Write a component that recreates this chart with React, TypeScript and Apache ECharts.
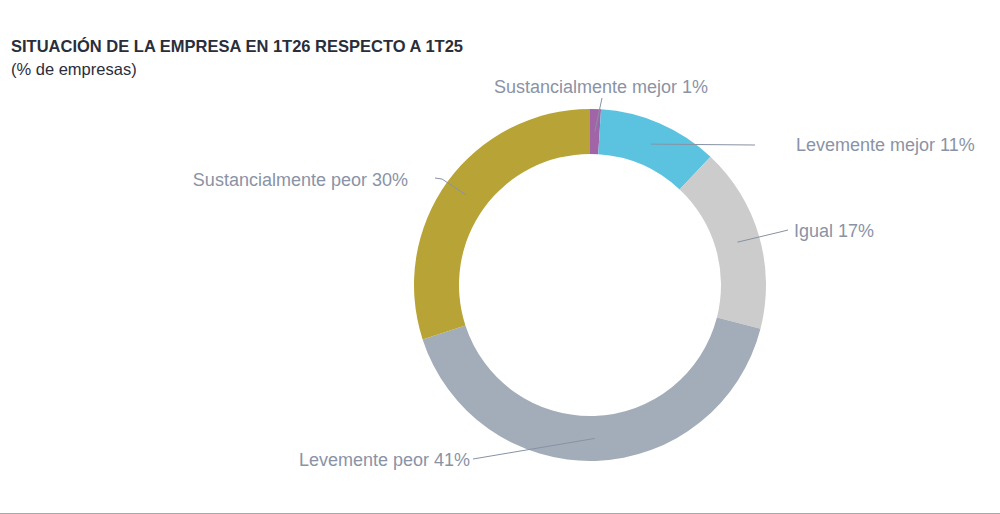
import React, { useEffect, useRef } from "react";
import * as echarts from "echarts";

const categories = [
  "Sustancialmente mejor",
  "Levemente mejor",
  "Igual",
  "Levemente peor",
  "Sustancialmente peor",
];
const values = [1, 11, 17, 41, 30];
const colors = ["#a164a6", "#5bc3e0", "#cccccc", "#a3acb9", "#b8a436"];

const titleText = "SITUACIÓN DE LA EMPRESA EN 1T26 RESPECTO A 1T25";
const subtitleText = "(% de empresas)";

// label anchor positions (layout only)
const labelAnchors: { x: number; y: number; align: string; mid: [number, number] | null; end: [number, number] }[] = [
  { x: 601, y: 87, align: "center", mid: null, end: [602, 98] },
  { x: 796, y: 145, align: "left", mid: null, end: [755, 145] },
  { x: 794, y: 231, align: "left", mid: [780, 232], end: [788, 230] },
  { x: 470, y: 460, align: "right", mid: null, end: [473, 459] },
  { x: 408, y: 180, align: "right", mid: [442, 179], end: [435, 178] },
];

const CX = 590;
const CY = 285;
const R_IN = 131;
const R_OUT = 176;
const FONT = "Liberation Sans, Arial, sans-serif";

export default function App() {
  const ref = useRef<HTMLDivElement>(null);
  useEffect(() => {
    const chart = echarts.init(ref.current!, null, { renderer: "svg" });
    const total = values.reduce((a, b) => a + b, 0);
    const midPoint = (i: number): [number, number] => {
      let cum = 0;
      for (let k = 0; k < i; k++) cum += values[k];
      const frac = (cum + values[i] / 2) / total;
      const ang = frac * Math.PI * 2;
      const r = (R_IN + R_OUT) / 2;
      return [CX + r * Math.sin(ang), CY - r * Math.cos(ang)];
    };
    const leaderLines = labelAnchors.map((a, i) => {
      const pts: [number, number][] = [midPoint(i)];
      if (a.mid) pts.push(a.mid);
      pts.push(a.end);
      return {
        type: "polyline",
        z: 100,
        shape: { points: pts },
        style: { stroke: "#8792a5", lineWidth: 1, fill: null },
      };
    });
    chart.setOption({
      animation: false,
      title: {
        text: titleText,
        subtext: subtitleText,
        left: 11,
        top: 37,
        itemGap: 6,
        padding: 0,
        textStyle: {
          fontFamily: FONT,
          fontSize: 16.5,
          fontWeight: "bold",
          color: "#2a2e3a",
        },
        subtextStyle: {
          fontFamily: FONT,
          fontSize: 16.5,
          color: "#2a2e3a",
        },
      },
      graphic: [
        {
          type: "line",
          shape: { x1: 0, y1: 513.5, x2: 1000, y2: 513.5 },
          style: { stroke: "#a8a8a8", lineWidth: 1 },
        },
        ...leaderLines,
      ],
      series: [
        {
          type: "pie",
          center: [CX, CY],
          radius: [R_IN, R_OUT],
          startAngle: 90,
          clockwise: true,
          avoidLabelOverlap: false,
          data: categories.map((c, i) => ({
            name: c,
            value: values[i],
            itemStyle: { color: colors[i] },
          })),
          label: {
            show: true,
            position: "outside",
            formatter: "{b} {c}%",
            fontFamily: FONT,
            fontSize: 18,
            color: "#8a93a6",
          },
          labelLine: { show: false },
          labelLayout: (params: any) => {
            const a = labelAnchors[params.dataIndex];
            return {
              x: a.x,
              y: a.y,
              align: a.align,
              verticalAlign: "middle",
            };
          },
          emphasis: { disabled: true },
        },
      ],
    });
    return () => chart.dispose();
  }, []);
  return (
    <div
      ref={ref}
      style={{ position: "absolute", left: 0, top: 0, width: 1000, height: 514 }}
    />
  );
}
